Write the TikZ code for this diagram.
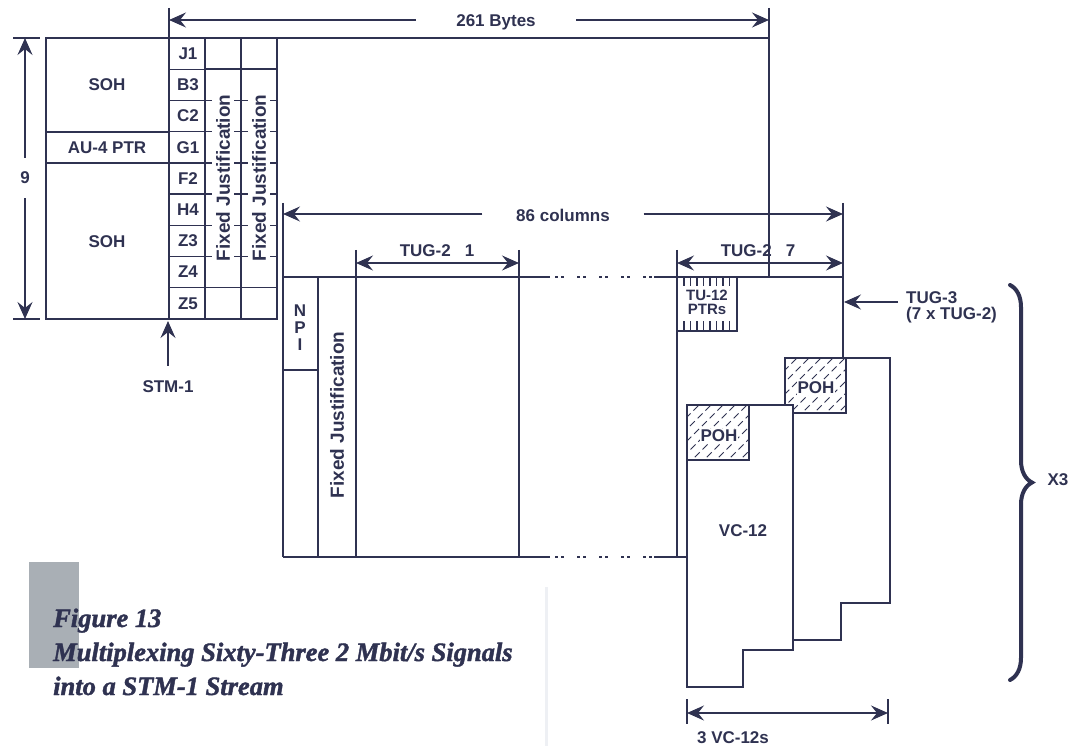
\documentclass[tikz,border=0pt]{standalone}
\usepackage{fontspec}
\setmainfont{Liberation Sans}
\newfontfamily\capfont[FakeBold=1.6]{Liberation Serif}
\usepackage{xcolor}
\usepackage{tikz}
\usetikzlibrary{arrows.meta,decorations.pathreplacing,positioning}

\definecolor{navy}{HTML}{2F3251}
\definecolor{capgray}{HTML}{A9AFB5}
\definecolor{pagefold}{HTML}{EEF0F4}

\tikzset{
  frameline/.style={draw=navy, line width=1.4pt},
  lbl/.style={text=navy, font=\bfseries\fontsize{17}{17}\selectfont, inner sep=1pt},
  smalllbl/.style={text=navy, font=\bfseries\fontsize{15}{14}\selectfont, inner sep=1pt, align=center},
  vlbl/.style={text=navy, font=\bfseries\fontsize{19}{19}\selectfont, inner sep=1pt, rotate=90},
  dimarrow/.style={draw=navy, line width=1.4pt, -{Stealth[length=17pt,width=15pt,inset=6pt]}},
  dimboth/.style={draw=navy, line width=1.4pt, {Stealth[length=17pt,width=15pt,inset=6pt]}-{Stealth[length=17pt,width=15pt,inset=6pt]}},
  gapline/.style={draw=navy, line width=1.4pt, dash pattern=on 3pt off 3pt on 3pt off 13pt},
  hatchline/.style={draw=navy, line width=1pt, dash pattern=on 7pt off 4pt},
  captxt/.style={text=navy, font=\capfont\bfseries\itshape\fontsize{26.5}{34}\selectfont, inner sep=0pt, anchor=base west}
}

\begin{document}
\begin{tikzpicture}[x=1pt, y=-1pt]
\useasboundingbox (0,0) rectangle (1080,746);

% caption
\fill[capgray] (29,562) rectangle (79,668);
\draw[pagefold, line width=3pt] (546,587) -- (546,746);
\node[captxt] (fignum) at (53,627) {Figure 13};
\node[captxt] (figtitle) at (53,661) {Multiplexing Sixty-Three 2 Mbit/s Signals};
\node[captxt] (figtitleb) at (53,695) {into a STM-1 Stream};

% STM-1 frame
\draw[frameline] (46,38) rectangle (277,319);
\draw[frameline] (277,38) -- (769,38);
\draw[frameline] (769,8) -- (769,277);
\draw[frameline] (169,8) -- (169,319);
\draw[frameline] (205,38) -- (205,319);
\draw[frameline] (241,38) -- (241,319);
\draw[frameline] (46,132) -- (169,132) (46,163) -- (169,163);
\foreach \r in {1,...,8}
  \draw[frameline] (169,{38+31.22*\r}) -- (205,{38+31.22*\r});
\draw[frameline] (205,69.2) -- (277,69.2) (205,287.8) -- (277,287.8);
\foreach \r in {2,...,7}
  \foreach \c in {205,241}
    \draw[frameline] (\c,{38+31.22*\r}) -- ++(7,0) ({\c+29},{38+31.22*\r}) -- ++(7,0);

\node[lbl] (sohtop) at (107,85) {SOH};
\node[lbl] (au4ptr) at (107,148) {AU-4 PTR};
\node[lbl] (sohbot) at (107,242) {SOH};
\foreach \t [count=\i from 0] in {J1,B3,C2,G1,F2,H4,Z3,Z4,Z5}
  \node[lbl] (ovh\i) at (188,{53.6+31.22*\i}) {\t};
\node[vlbl] (fjone) at (223,178) {Fixed Justification};
\node[vlbl] (fjtwo) at (259,178) {Fixed Justification};

% 9 rows
\draw[frameline] (13,38) -- (40,38) (13,319) -- (40,319);
\coordinate (rowstop) at (25,38);
\coordinate (rowsbot) at (25,319);
\node[lbl, minimum height=40pt] (rows) at (25,178) {9};
\draw[dimarrow] (rows) -- (rowstop);
\draw[dimarrow] (rows) -- (rowsbot);

% 261 bytes
\coordinate (bytesl) at (169,20);
\coordinate (bytesr) at (769,20);
\node[lbl, minimum width=160pt] (bytes) at (496,22) {261 Bytes};
\draw[dimarrow] (bytes.west |- bytesl) -- (bytesl);
\draw[dimarrow] (bytes.east |- bytesr) -- (bytesr);

% STM-1
\coordinate (stmtip) at (168,321);
\node[lbl] (stm) at (168,387) {STM-1};
\draw[dimarrow] ([yshift=14pt]stm.north) -- (stmtip);

% TUG-3
\draw[frameline] (283,203) -- (283,557);
\draw[frameline] (843,203) -- (843,358);
\draw[frameline] (283,277) -- (550,277) (654,277) -- (843,277);
\draw[gapline] (555,277) -- (652,277);
\draw[frameline] (283,557) -- (550,557) (654,557) -- (687,557);
\draw[gapline] (555,557) -- (652,557);
\draw[frameline] (318,277) -- (318,557);
\draw[frameline] (356,250) -- (356,557);
\draw[frameline] (519,250) -- (519,557);
\draw[frameline] (677,250) -- (677,557);
\draw[frameline] (283,370) -- (318,370);
\node[lbl, align=center] (npi) at (300,328) {N\\P\\I};
\node[vlbl] (fjthree) at (337,415) {Fixed Justification};

% 86 columns
\coordinate (colsl) at (283,214);
\coordinate (colsr) at (843,214);
\node[lbl, minimum width=161pt] (cols) at (563,215) {86 columns};
\draw[dimarrow] (cols.west |- colsl) -- (colsl);
\draw[dimarrow] (cols.east |- colsr) -- (colsr);

% TUG-2s
\coordinate (tugal) at (356,263);
\coordinate (tugar) at (519,263);
\draw[dimboth] (tugal) -- (tugar);
\node[lbl] (tuga) at (437,251) {TUG-2\hspace{14pt}1};
\coordinate (tugbl) at (677,263);
\coordinate (tugbr) at (843,263);
\draw[dimboth] (tugbl) -- (tugbr);
\node[lbl] (tugb) at (758,251) {TUG-2\hspace{14pt}7};

% TU-12 pointers
\draw[frameline] (677,331) -- (737,331) -- (737,277);
\foreach \t in {0,...,7}
  \draw[navy, line width=1.2pt] ({684+6.5*\t},277) -- ++(0,9) ({684+6.5*\t},331) -- ++(0,-10);
\node[smalllbl] (tuptr) at (707,302) {TU-12\\PTRs};

% TUG-3 label
\coordinate (tugctail) at (898,302);
\coordinate (tugctip) at (844,302);
\draw[dimarrow] (tugctail) -- (tugctip);
\node[lbl, anchor=west, align=left, font=\bfseries\fontsize{17}{16}\selectfont] (tugc) at (905,307) {TUG-3\\(7 x TUG-2)};

% VC-12s (back)
\draw[frameline, fill=white] (785,358) -- (890,358) -- (890,603) -- (841,603) -- (841,640) -- (785,640) -- cycle;
\begin{scope}
  \clip (785,358) rectangle (846,413);
  \foreach \k in {0,12,...,132}
    \draw[hatchline] ({785+\k-60},418) -- ++(60,-60);
\end{scope}
\draw[frameline] (785,358) rectangle (846,413);
\node[lbl, fill=white, inner sep=0.5pt] (pohb) at (816,388) {POH};

% VC-12 (front)
\draw[frameline, fill=white] (687,405) -- (793,405) -- (793,650) -- (743,650) -- (743,687) -- (687,687) -- cycle;
\begin{scope}
  \clip (687,405) rectangle (749,460);
  \foreach \k in {0,12,...,132}
    \draw[hatchline] ({687+\k-60},465) -- ++(60,-60);
\end{scope}
\draw[frameline] (687,405) rectangle (749,460);
\node[lbl, fill=white, inner sep=0.5pt] (poha) at (719,436) {POH};
\node[lbl] (vc) at (743,531) {VC-12};

% 3 VC-12s
\draw[frameline] (687,699) -- (687,724) (888,699) -- (888,724);
\coordinate (vcl) at (687,713);
\coordinate (vcr) at (888,713);
\draw[dimboth] (vcl) -- (vcr);
\node[lbl] (vcs) at (733,738) {3 VC-12s};

% x3 brace
\draw[navy, line width=4pt, line cap=round, decorate, decoration={brace, amplitude=22pt}] (1010,285) -- (1010,680);
\node[lbl] (times) at (1058,480) {X3};

\end{tikzpicture}
\end{document}
